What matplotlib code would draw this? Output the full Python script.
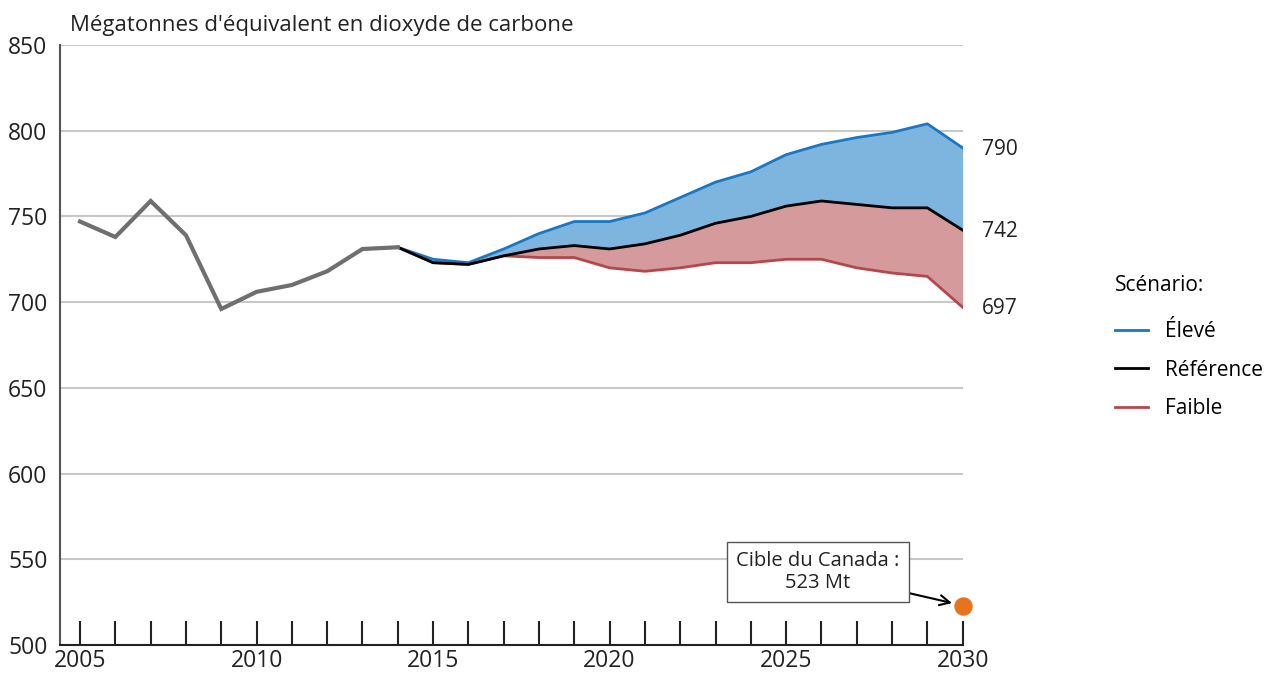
#!/usr/bin/env python3
"""
Émissions de GES du Canada : historique et scénarios jusqu'en 2030.
Produit : out.png
"""

import matplotlib.pyplot as plt

# --- Données ---
hist_years = [2005, 2006, 2007, 2008, 2009, 2010, 2011, 2012, 2013, 2014]
hist_values = [747, 738, 759, 739, 696, 706, 710, 718, 731, 732]

proj_years = list(range(2014, 2031))
eleve = [732, 725, 723, 731, 740, 747, 747, 752, 761, 770, 776, 786, 792, 796, 799, 804, 790]
reference = [732, 723, 722, 727, 731, 733, 731, 734, 739, 746, 750, 756, 759, 757, 755, 755, 742]
faible = [732, 723, 722, 727, 726, 726, 720, 718, 720, 723, 723, 725, 725, 720, 717, 715, 697]

cible_annee = 2030
cible_valeur = 523

BLEU = "#1a78c2"
BLEU_FOND = "#7db5df"
ROUGE = "#b5474c"
ROUGE_FOND = "#d49a9c"
GRIS = "#6f6f6f"
ORANGE = "#e8731c"

plt.rcParams["font.family"] = ["Open Sans", "DejaVu Sans"]


def main():
    fig = plt.figure(figsize=(12.75, 6.75), dpi=100)
    ax = fig.add_axes([0.047, 0.0444, 0.708, 0.889])

    ax.set_xlim(2004.43, 2030)
    ax.set_ylim(500, 850)

    # Remplissages entre les scénarios
    ax.fill_between(proj_years, reference, eleve, color=BLEU_FOND, linewidth=0, zorder=2)
    ax.fill_between(proj_years, faible, reference, color=ROUGE_FOND, linewidth=0, zorder=2)

    # Lignes
    ax.plot(hist_years, hist_values, color=GRIS, linewidth=3, zorder=4,
            solid_joinstyle="miter")
    l_eleve, = ax.plot(proj_years, eleve, color=BLEU, linewidth=2, zorder=3)
    l_faible, = ax.plot(proj_years, faible, color=ROUGE, linewidth=2, zorder=3)
    l_ref, = ax.plot(proj_years, reference, color="black", linewidth=2, zorder=3)

    # Étiquettes de fin de série
    for val in (eleve[-1], reference[-1], faible[-1]):
        ax.annotate(str(val), xy=(proj_years[-1], val), xytext=(14, -1),
                    textcoords="offset points", ha="left", va="center",
                    fontsize=15, color="#222222", annotation_clip=False)

    # Cible du Canada
    ax.scatter([cible_annee], [cible_valeur], s=150, color=ORANGE, zorder=6,
               clip_on=False)
    ax.annotate("Cible du Canada :\n523 Mt", xy=(cible_annee - 0.3, cible_valeur + 1.5),
                xytext=(2025.9, 542.5), ha="center", va="center", fontsize=14.5,
                color="#222222", linespacing=1.1,
                bbox=dict(boxstyle="square,pad=0.45", facecolor="white",
                          edgecolor="#555555", linewidth=1),
                arrowprops=dict(arrowstyle="->", color="black", lw=1.5,
                                shrinkA=0, shrinkB=0, mutation_scale=18),
                zorder=7)

    # Grille et axes
    ax.set_yticks(range(500, 851, 50))
    ax.set_xticks(range(2005, 2031, 5))
    ax.set_xticks(range(2005, 2031), minor=True)
    ax.yaxis.grid(True, color="#c8c8c8", linewidth=1.5, zorder=0)
    ax.set_axisbelow(True)
    for side in ("top", "right"):
        ax.spines[side].set_visible(False)
    ax.spines["left"].set_color("#555555")
    ax.spines["left"].set_linewidth(1.5)
    ax.spines["bottom"].set_color("#222222")
    ax.spines["bottom"].set_linewidth(1.5)
    ax.tick_params(axis="y", length=0, labelsize=16.5, pad=9, labelcolor="#222222")
    ax.tick_params(axis="x", which="both", direction="in", length=17, width=1.5,
                   color="#222222", labelsize=16.5, pad=3, labelcolor="#222222")

    fig.text(0.055, 0.962, "Mégatonnes d'équivalent en dioxyde de carbone",
             fontsize=16, color="#222222", ha="left", va="center")

    # Légende
    leg = fig.legend([l_eleve, l_ref, l_faible], ["Élevé", "Référence", "Faible"],
                     title="Scénario:", loc="upper left",
                     bbox_to_anchor=(0.868, 0.605), frameon=False,
                     fontsize=15, title_fontsize=15, handlelength=1.6,
                     handletextpad=0.8, labelspacing=0.85, alignment="left",
                     borderaxespad=0)
    leg._legend_box.sep = 18

    fig.savefig("out.png", dpi=100, facecolor="white")
    plt.close(fig)


if __name__ == "__main__":
    main()
